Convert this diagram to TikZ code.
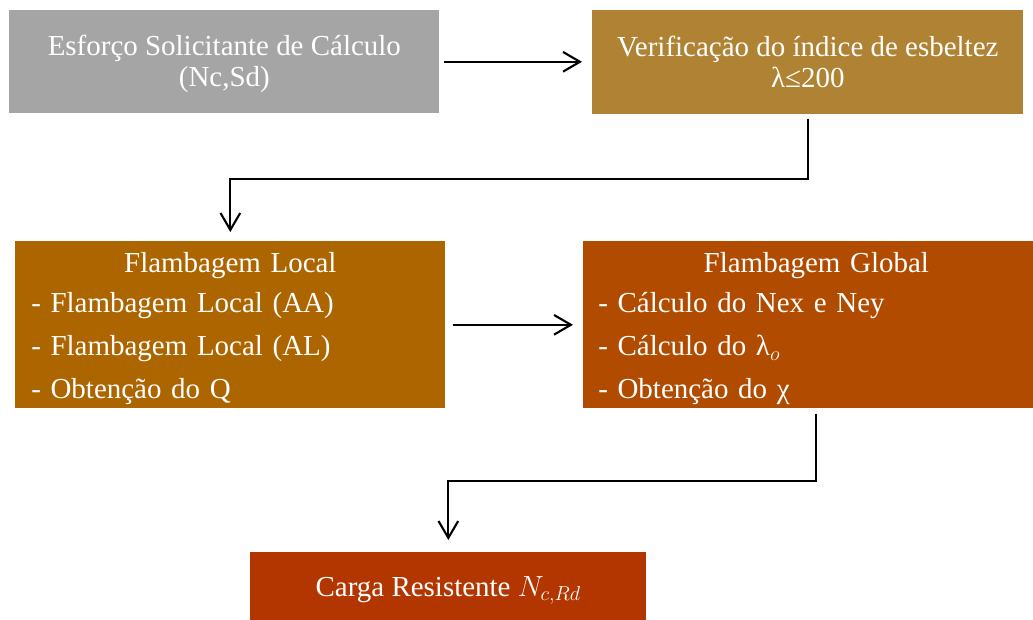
\documentclass[tikz,border=0pt]{standalone}
\usepackage{fontspec}
\setmainfont{Liberation Serif}
\usetikzlibrary{arrows.meta}
\definecolor{cinza}{HTML}{A5A5A5}
\definecolor{ocre}{HTML}{AF8333}
\definecolor{laranja}{HTML}{AD6500}
\definecolor{ferrugem}{HTML}{B04B00}
\definecolor{tijolo}{HTML}{B33600}

\begin{document}
\begin{tikzpicture}[x=0.025cm, y=-0.025cm,
  caixa/.style={anchor=north west, inner sep=0pt, text=white, align=center,
    font=\fontsize{20.6}{22}\selectfont},
  lista/.style={caixa, align=left, font=\fontsize{20.6}{30.5}\selectfont},
  seta/.style={-{Straight Barb[length=12pt,width=14pt]}, line width=1.5pt}]
\useasboundingbox (0,0) rectangle (1033,619);
\clip (0,0) rectangle (1033,619);

\node[caixa, fill=cinza, minimum width=10.75cm, minimum height=2.575cm] (esforco) at (9,10)
  {\rule{0pt}{18pt}Esforço Solicitante de Cálculo\\(Nc,Sd)};
\node[caixa, fill=ocre, minimum width=10.775cm, minimum height=2.6cm] (verif) at (592,10)
  {Verificação do índice de esbeltez\\λ≤200};

\node[lista, fill=laranja, inner xsep=0.4cm, text width=9.95cm, minimum height=4.175cm] (local) at (15,241)
  {{\centering\rule{0pt}{19.8pt}Flambagem Local\par}\vspace{-2pt}\raggedright
   - Flambagem Local (AA)\par
   - Flambagem Local (AL)\par
   - Obtenção do Q\par};
\node[lista, fill=ferrugem, inner xsep=0.375cm, text width=10.9cm, minimum height=4.175cm] (global) at (583,241)
  {{\centering\rule{0pt}{19.8pt}Flambagem Global\par}\vspace{-2pt}\raggedright
   - Cálculo do Nex e Ney\par
   - Cálculo do λ$_o$\par
   - Obtenção do χ\par};

\node[caixa, fill=tijolo, minimum width=9.9cm, minimum height=1.75cm] (carga) at (250,552)
  {\rule{0pt}{19pt}Carga Resistente $N_{c,Rd}$};

% ligacoes
\draw[seta, shorten <=0.1cm, shorten >=0.25cm] (esforco.east) -- (esforco.east -| verif.west);
\draw[seta, shorten <=0.1cm, shorten >=0.225cm] (verif.south) -- ++(0,64) -| (local.north);
\draw[seta, shorten <=0.175cm, shorten >=0.25cm] (local.east) -- (global.west);
\draw[seta, shorten <=0.125cm, shorten >=0.3cm] (global.south) -- ++(0,72) -| (carga.north);

\end{tikzpicture}
\end{document}
